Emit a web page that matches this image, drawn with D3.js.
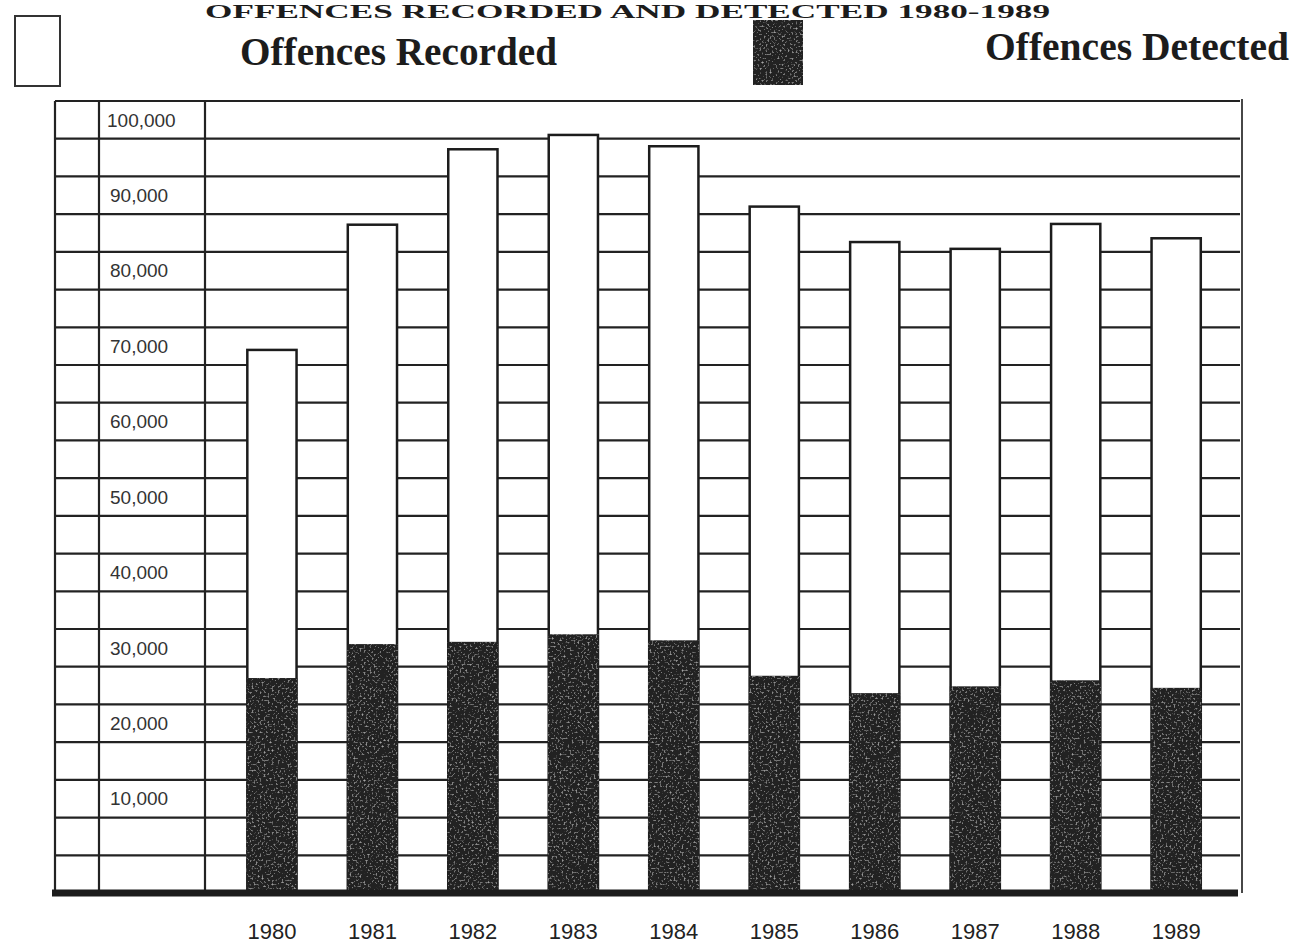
<!DOCTYPE html>
<html>
<head>
<meta charset="utf-8">
<script src="https://cdn.jsdelivr.net/npm/d3@7"></script>
<style>
  html, body { margin: 0; padding: 0; background: #fff; }
  svg { display: block; }
</style>
</head>
<body>
<svg id="chart" width="1292" height="946"></svg>
<script>
// ---- data ----
const years = ["1980","1981","1982","1983","1984","1985","1986","1987","1988","1989"];
const recorded = [72000, 88600, 98600, 100500, 99000, 91000, 86300, 85400, 88700, 86800];
const detected = [28500, 33000, 33300, 34300, 33500, 28800, 26500, 27400, 28200, 27200];
const tickValues = [10000, 20000, 30000, 40000, 50000, 60000, 70000, 80000, 90000, 100000];
const titleText = "OFFENCES  RECORDED  AND  DETECTED 1980-1989";
const legendLabels = ["Offences  Recorded", "Offences  Detected"];

const svg = d3.select("#chart");
const ink = "#1c1c1c";

// grain filter for the dark bars
const defs = svg.append("defs");
const f = defs.append("filter").attr("id", "grain").attr("x", 0).attr("y", 0).attr("width", 1).attr("height", 1);
f.append("feTurbulence").attr("type", "fractalNoise").attr("baseFrequency", 0.5).attr("numOctaves", 2).attr("seed", 7).attr("result", "noise");
f.append("feColorMatrix").attr("in", "noise").attr("type", "matrix")
  .attr("values", "0 0 0 0 0.45  0 0 0 0 0.45  0 0 0 0 0.45  3.0 0 0 0 -1.7").attr("result", "specks");
f.append("feComposite").attr("in", "specks").attr("in2", "SourceGraphic").attr("operator", "in").attr("result", "clipped");
const merge = f.append("feMerge");
merge.append("feMergeNode").attr("in", "SourceGraphic");
merge.append("feMergeNode").attr("in", "clipped");

const y = d3.scaleLinear().domain([0, 105000]).range([893, 101]);
const x = d3.scaleBand().domain(years).range([221.7, 1226.4]).paddingInner(0.51).paddingOuter(0.255);

// title
svg.append("text")
  .attr("x", 205).attr("y", 18)
  .attr("textLength", 845).attr("lengthAdjust", "spacingAndGlyphs")
  .attr("font-family", "Liberation Serif, Times New Roman, serif")
  .attr("font-weight", "bold").attr("font-size", 18).attr("fill", ink)
  .text(titleText);

// legend
svg.append("rect").attr("x", 15).attr("y", 16).attr("width", 45).attr("height", 70)
  .attr("fill", "#fff").attr("stroke", "#333").attr("stroke-width", 2);
svg.append("rect").attr("x", 753).attr("y", 20).attr("width", 50).attr("height", 65)
  .attr("fill", "#222").attr("filter", "url(#grain)");
svg.append("text").attr("x", 240).attr("y", 65)
  .attr("textLength", 317).attr("lengthAdjust", "spacingAndGlyphs")
  .attr("font-family", "Liberation Serif, Times New Roman, serif")
  .attr("font-weight", "bold").attr("font-size", 40).attr("fill", ink)
  .text(legendLabels[0]);
svg.append("text").attr("x", 985).attr("y", 60)
  .attr("textLength", 304).attr("lengthAdjust", "spacingAndGlyphs")
  .attr("font-family", "Liberation Serif, Times New Roman, serif")
  .attr("font-weight", "bold").attr("font-size", 40).attr("fill", ink)
  .text(legendLabels[1]);

// grid
const gridVals = d3.range(5000, 105001, 5000);
const xLeft = 55, xRight = 1240;
svg.append("g").selectAll("line").data(gridVals).join("line")
  .attr("x1", xLeft).attr("x2", xRight)
  .attr("y1", d => y(d)).attr("y2", d => y(d))
  .attr("stroke", "#222").attr("stroke-width", 2.2);

// vertical frame lines
[55, 99, 205].forEach(vx => {
  svg.append("line").attr("x1", vx).attr("x2", vx).attr("y1", y(105000)).attr("y2", y(0))
    .attr("stroke", "#222").attr("stroke-width", 2.2);
});
svg.append("line").attr("x1", 1242).attr("x2", 1242).attr("y1", y(105000) - 2).attr("y2", y(0))
  .attr("stroke", "#333").attr("stroke-width", 1.8);

// y labels
svg.append("g").selectAll("text").data(tickValues).join("text")
  .attr("x", d => d >= 100000 ? 107 : 110).attr("y", d => y(d + 2500))
  .attr("dy", "0.35em")
  .attr("font-family", "Liberation Sans, Arial, sans-serif")
  .attr("font-size", 19).attr("fill", "#333")
  .text(d => d3.format(",")(d));

// bars
const data = years.map((yr, i) => ({ yr, rec: recorded[i], det: detected[i] }));
const bars = svg.append("g");
bars.selectAll("rect.rec").data(data).join("rect").attr("class", "rec")
  .attr("x", d => x(d.yr)).attr("width", x.bandwidth())
  .attr("y", d => y(d.rec)).attr("height", d => y(0) - y(d.rec))
  .attr("fill", "#fff").attr("stroke", ink).attr("stroke-width", 2.5);
bars.selectAll("rect.det").data(data).join("rect").attr("class", "det")
  .attr("x", d => x(d.yr) - 0.75).attr("width", x.bandwidth() + 1.5)
  .attr("y", d => y(d.det)).attr("height", d => y(0) - y(d.det))
  .attr("fill", "#222").attr("filter", "url(#grain)");

// baseline
svg.append("line").attr("x1", 52).attr("x2", 1238).attr("y1", y(0)).attr("y2", y(0))
  .attr("stroke", ink).attr("stroke-width", 7);

// x labels
svg.append("g").selectAll("text").data(years).join("text")
  .attr("x", d => x(d) + x.bandwidth() / 2).attr("y", 931)
  .attr("dy", "0.35em").attr("text-anchor", "middle")
  .attr("font-family", "Liberation Sans, Arial, sans-serif")
  .attr("font-size", 22).attr("fill", "#222")
  .text(d => d);
</script>
</body>
</html>
